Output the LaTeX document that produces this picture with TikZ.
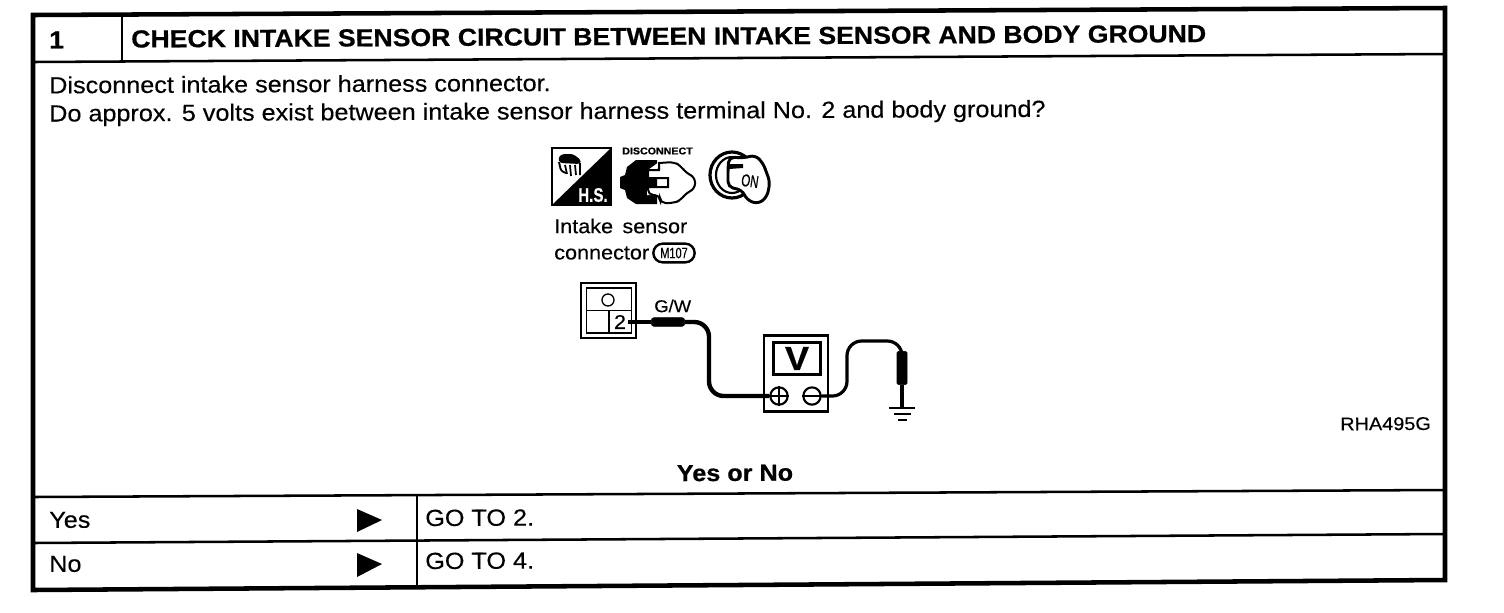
\documentclass[tikz,border=0pt]{standalone}
\usepackage{fontspec}
\setmainfont[FakeStretch=1.08,FakeBold=0.3,BoldFeatures={FakeBold=0.6}]{Liberation Sans}
\usetikzlibrary{calc}
\tikzset{
 txt/.style={inner sep=0pt,anchor=west,rotate=0.27,font=\fontsize{17.5pt}{19pt}\selectfont},
 ttl/.style={inner sep=0pt,anchor=west,rotate=0.29,font=\fontsize{18.5pt}{20pt}\selectfont\bfseries},
 small/.style={inner sep=0pt,anchor=west,font=\fontsize{15pt}{17pt}\selectfont},
 rule/.style={line width=1.9pt,draw=black},
 thin rule/.style={line width=1.3pt,draw=black},
 wire/.style={line width=3.3pt,draw=black,rounded corners=11pt},
 probe/.style={fill=black,draw=black,inner sep=0pt},
 pole/.style={circle,draw=black,line width=1.6pt,fill=white,minimum size=13pt,inner sep=0pt},
}
\begin{document}
\begin{tikzpicture}[x=0.75pt,y=-0.75pt]
\useasboundingbox[fill=white] (0,0) rectangle (1504,612);
% frame
\coordinate (tl) at (33,15); \coordinate (tr) at (1445,8);
\coordinate (bl) at (33,590); \coordinate (br) at (1445,580);
\draw[line width=3.4pt] (tl) -- (tr) -- (br) -- (bl) -- cycle;
\coordinate (h1) at (33,62); \coordinate (h2) at (1445,54);
\draw[rule] (h1) -- (h2);
\coordinate (hv1) at (122,15); \coordinate (hv2) at (122,62);
\draw[thin rule] (hv1) -- (hv2);
\coordinate (y1) at (33,497); \coordinate (y2) at (1445,490);
\draw[rule] (y1) -- (y2);
\coordinate (r1) at (33,543); \coordinate (r2) at (1445,534);
\draw[rule] (r1) -- (r2);
\coordinate (v1) at (417,495); \coordinate (v2) at (417,587);
\draw[rule] (v1) -- (v2);
% texts
\node[ttl] (num) at (49,40) {1};
\node[ttl] (title) at (131,39) {CHECK INTAKE SENSOR CIRCUIT BETWEEN INTAKE SENSOR AND BODY GROUND};
\node[txt] (l1) at (49,85) {Disconnect intake sensor harness connector.};
\node[txt] (l2) at (49,115.5) {Do approx. 5 volts exist between intake sensor harness terminal No. 2 and body ground?};
\node[ttl,anchor=center,font=\fontsize{17.5pt}{19pt}\selectfont\bfseries] (yn) at (735,473) {Yes or No};
\node[txt,font=\fontsize{13.8pt}{15pt}\selectfont] (ref) at (1340,424) {RHA495G};
\node[txt] (yes) at (49,520) {Yes};
\node[txt] (no) at (49,564) {No};
\node[txt] (g2) at (425,518) {GO TO 2.};
\node[txt] (g4) at (425,561) {GO TO 4.};
\fill (357,509) -- (382,520) -- (357,532) -- cycle;
\fill (357,553) -- (382,564) -- (357,577) -- cycle;
% H.S. icon
\draw[line width=1.8pt] (552,148) rectangle (611,205);
\fill (611,148) -- (611,205) -- (552,205) -- cycle;
\node[inner sep=0pt,text=white,font=\fontsize{10.5pt}{12pt}\selectfont\bfseries] (hs) at (593,195) {\scalebox{1}[1.4]{H.S.}};
\fill[rounded corners=2pt] (558,158) -- (562,154) -- (573,154) -- (581,160) -- (580,164) -- (560,163) -- cycle;
\draw[line width=1.4pt,rounded corners=2pt] (559,162) -- (561,171) -- (566,173) (580,163) -- (580,175);
\draw[line width=1.3pt] (565,165) -- (567,174) (570,165) -- (571,176) (575,165) -- (576,175);
% disconnect
\node[inner sep=0pt,font=\fontsize{7.4pt}{8pt}\selectfont\bfseries] (dis) at (657.5,151) {DISCONNECT};
\fill (636,160) -- (657,160) -- (657,204) -- (636,204) -- (627,198) -- (625,190) -- (620,188) -- (620,177) -- (625,175) -- (627,167) -- cycle;
\fill[white] (647,170) rectangle (657,178) (647,187) rectangle (657,195);
\draw[line width=1.5pt,fill=white,rounded corners=1pt] (648,170) -- (659,170) -- (659,162);
\draw[line width=1.5pt,fill=white,rounded corners=4pt] (659,163) -- (674,162) -- (681,166) -- (686,173) -- (695,177) -- (695,189) -- (686,193) -- (681,200) -- (674,203) -- (660,203) -- (660,195) -- (648,195) [sharp corners] -- (648,187) -- (668,187) -- (668,178) -- (648,178) -- (648,170) -- (659,170) -- cycle;
% key
\draw[line width=2.4pt,fill=white] (732,175) ellipse (22 and 23);
\draw[line width=1.6pt] (732,175) ellipse (16 and 18);
\draw[line width=2.2pt,fill=white,rounded corners=4pt] (728,168) -- (729,157) -- (744,158) -- (755,155) -- (763,163) -- (770,182) -- (767,197) -- (758,204) -- (747,200) -- (742,190) -- (728,187) -- cycle;
\fill (729,164) -- (743,164) -- (743,168) -- (729,169) -- cycle;
\node[inner sep=0pt,rotate=-8,font=\fontsize{10pt}{11pt}\selectfont] (on) at (750,181) {\scalebox{0.8}[1.3]{ON}};
% labels
\node[small] (ts) at (554,226) {Intake\hspace{7pt}sensor};
\node[small] (tc) at (554,253) {connector};
\node[draw,rounded corners=7pt,line width=1.8pt,minimum width=31pt,minimum height=14pt,inner sep=0pt,font=\fontsize{9pt}{10pt}\selectfont] (m) at (674,253) {\scalebox{0.85}[1.25]{M107}};
% connector box
\node[draw,line width=2.2pt,minimum width=41.25pt,minimum height=41.25pt,inner sep=0pt] (cbox) at (608.5,310.5) {};
\node[draw,line width=1.1pt,minimum width=33.5pt,minimum height=33.5pt,inner sep=0pt] (cin) at (609,310.5) {};
\coordinate (cm1) at (cin.west); \coordinate (cm2) at (cin.east);
\draw[line width=1.1pt] (cm1) -- (cm2);
\coordinate (cv1) at (cin.center); \coordinate (cv2) at (cin.south);
\draw[line width=1.1pt] (cv1) -- (cv2);
\node[circle,draw,line width=1pt,minimum size=9pt,inner sep=0pt] (chole) at (608,300) {};
\node[inner sep=0pt,font=\fontsize{15pt}{16pt}\selectfont] (two) at (620,322) {2};
\node[small,font=\fontsize{12.8pt}{14pt}\selectfont] (gw) at (654,306) {G/W};
\coordinate (pinA) at (628,322);
\node[probe,minimum width=25pt,minimum height=6.5pt,rounded corners=2pt] (p1) at (668,322) {};
\draw[line width=3.4pt] (pinA) -- (p1.west);
% meter
\node[draw,line width=1.8pt,minimum width=48pt,minimum height=57pt,inner sep=0pt] (meter) at (796,373.5) {};
\node[draw,line width=2.4pt,minimum width=35pt,minimum height=24pt,inner sep=0pt,font=\fontsize{25pt}{25pt}\selectfont\bfseries] (disp) at (797,358.5) {V};
\node[pole] (plus) at (779,396) {};
\node[pole] (minus) at (812,396) {};
\draw[line width=1.6pt] (plus.west) -- (plus.east) (plus.north) -- (plus.south);
\draw[line width=1.6pt] (minus.west) -- (minus.east);
% wires
\draw[wire] (p1.east) -- (709,322) -- (709,396) -- (plus.west);
\coordinate (mbridge) at (847,396);
\coordinate (mtop) at (847,341);
\node[probe,minimum width=7.5pt,minimum height=25pt,rounded corners=1pt] (p2) at (902,368) {};
\draw[line width=2.4pt,rounded corners=11pt] (minus.east) -- (mbridge) -- (mtop) -- (902,341) -- (p2.north);
\coordinate (gnd) at (902,408);
\draw[line width=2.4pt] (p2.south) -- (gnd);
\coordinate (ga) at (889,408); \coordinate (gb) at (915,408);
\coordinate (gc) at (894,414); \coordinate (gd) at (911,414);
\coordinate (ge) at (898,420); \coordinate (gf) at (907,420);
\draw[line width=1.8pt] (ga) -- (gb) (gc) -- (gd) (ge) -- (gf);
\end{tikzpicture}
\end{document}
